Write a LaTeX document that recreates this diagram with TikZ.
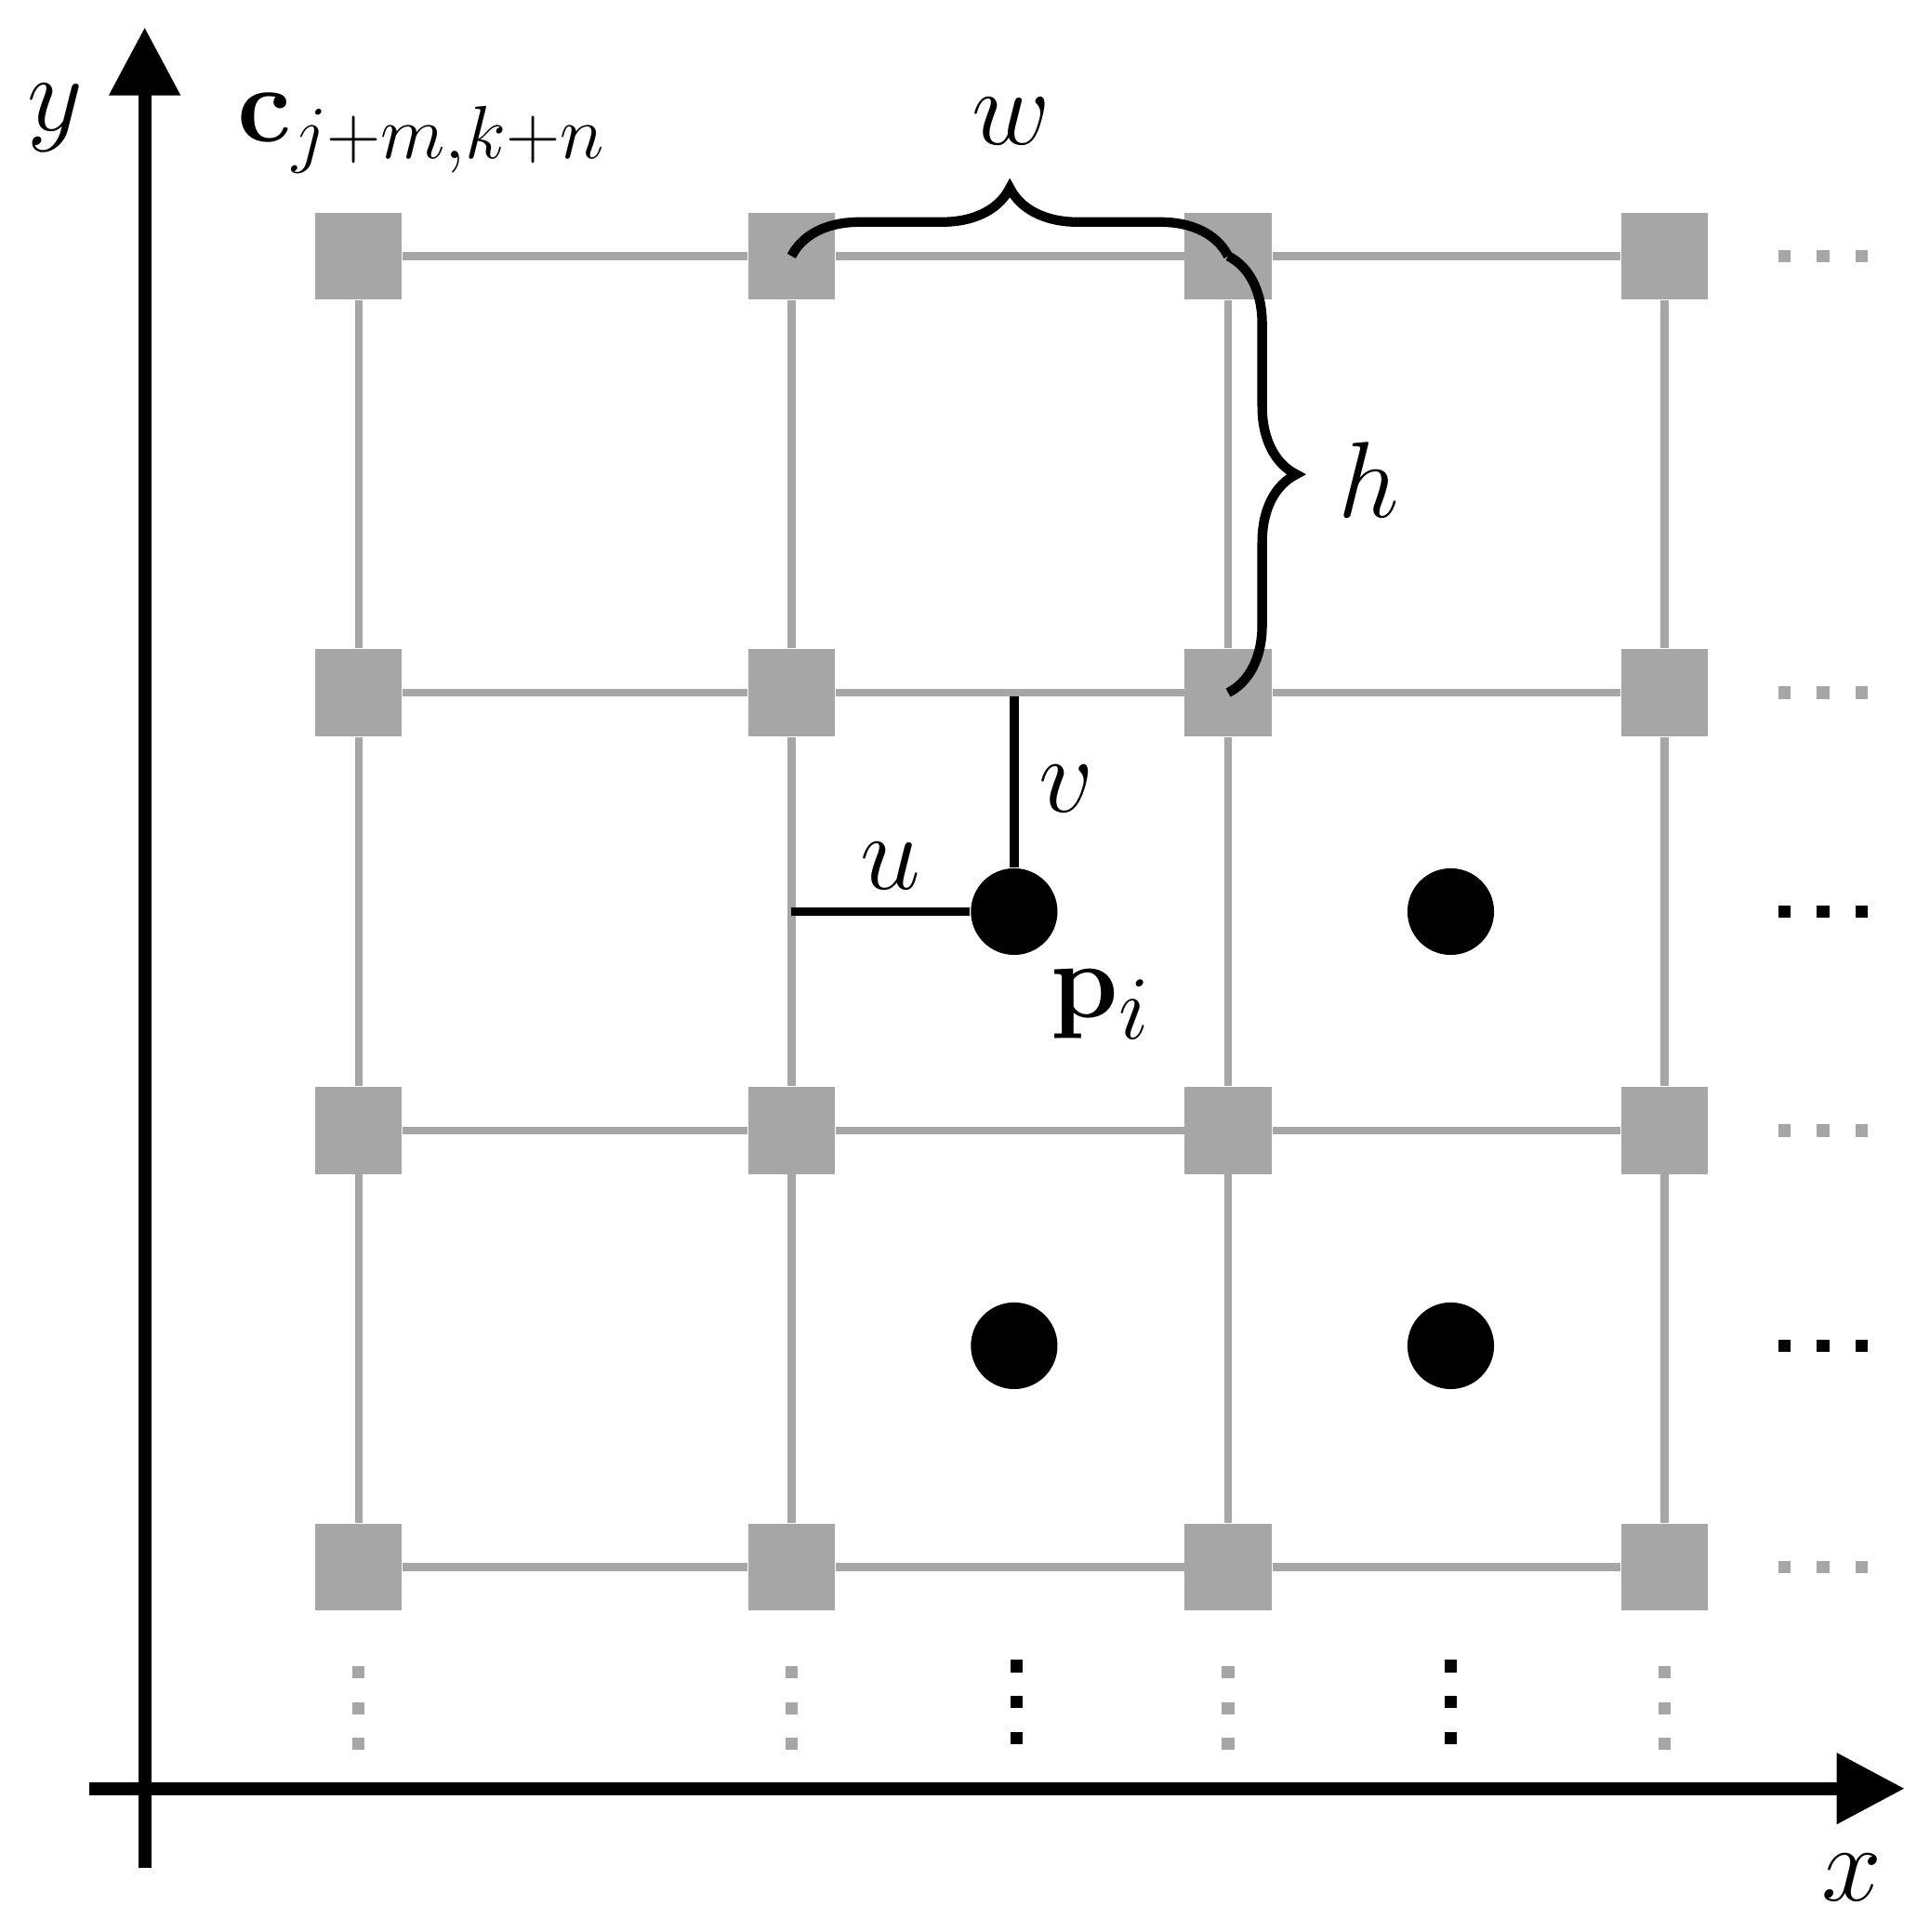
\documentclass[tikz,border=0pt]{standalone}
\usetikzlibrary{decorations.pathreplacing,arrows.meta}
\begin{document}
\begin{tikzpicture}[x=0.01cm,y=-0.01cm,
  sq/.style={fill=gray!70,minimum size=0.7cm,inner sep=0,draw=none},
  pt/.style={circle,fill=black,minimum size=0.7cm,inner sep=0},
  gl/.style={gray!70,line width=1.8pt},
  ax/.style={line width=3pt,-{Triangle[length=0.55cm,width=0.55cm]}},
  lab/.style={font=\fontsize{28}{32}\selectfont},
  br/.style={line width=2.2pt,decorate,decoration={brace,amplitude=0.55cm}},
  gdot/.style={fill=gray!70,minimum size=0.1cm,inner sep=0},
  bdot/.style={fill=black,minimum size=0.1cm,inner sep=0}]
\useasboundingbox (0,0) rectangle (1560,1562);
\foreach \i/\x in {1/290,2/640,3/993,4/1346}
  \foreach \j/\y in {1/207,2/560,3/914,4/1267}
    \node[sq] (s\i\j) at (\x,\y) {};
\foreach \i in {1,2,3,4}{
  \draw[gl] (s\i1) -- (s\i2); \draw[gl] (s\i2) -- (s\i3); \draw[gl] (s\i3) -- (s\i4);}
\foreach \j in {1,2,3,4}{
  \draw[gl] (s1\j) -- (s2\j); \draw[gl] (s2\j) -- (s3\j); \draw[gl] (s3\j) -- (s4\j);}
\node[pt] (p) at (820,737) {};
\node[pt] (p2) at (1173,737) {};
\node[pt] (p3) at (820,1088) {};
\node[pt] (p4) at (1173,1088) {};
% axes
\coordinate (yo) at (117,1510); \coordinate (yt) at (117,22);
\coordinate (xo) at (72,1446); \coordinate (xt) at (1540,1446);
\draw[ax] (yo) -- (yt);
\draw[ax] (xo) -- (xt);
\node[lab] (ylab) at (45,95) {$y$};
\node[lab] (xlab) at (1497,1518) {$x$};
\node[anchor=west,font=\fontsize{23}{27}\selectfont] (clab) at (180,108) {$\mathbf{c}_{j+m,k+n}$};
% braces
\coordinate (b1) at (640,207); \coordinate (b2) at (993,207); \coordinate (b3) at (993,560);
\draw[br] (b1) -- (b2);
\draw[br] (b2) -- (b3);
\node[lab] (w) at (818,98) {$w$};
\node[lab] (h) at (1107,388) {$h$};
% u v
\coordinate (ua) at (640,737); \coordinate (va) at (820,563);
\draw[line width=2pt] (ua) -- (p.west);
\draw[line width=2pt] (va) -- (p.north);
\node[lab] (u) at (720,700) {$u$};
\node[lab] (v) at (862,638) {$v$};
\node[lab] (pi) at (890,812) {$\mathbf{p}_i$};
% dots right
\foreach \y in {207,560,914,1267}\foreach \k in {0,1,2}\node[gdot] (rg\y\k) at (1443+\k*31,\y) {};
\foreach \y in {737,1088}\foreach \k in {0,1,2}\node[bdot] (rb\y\k) at (1443+\k*31,\y) {};
\foreach \x in {290,640,993,1346}\foreach \k in {0,1,2}\node[gdot] (dg\x\k) at (\x,1352+\k*29) {};
\foreach \x in {822,1173}\foreach \k in {0,1,2}\node[bdot] (db\x\k) at (\x,1347+\k*29) {};
\end{tikzpicture}
\end{document}
